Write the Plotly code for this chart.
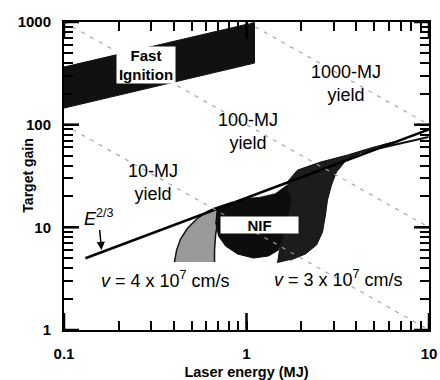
import math
import plotly.graph_objects as go

# ---- data ----
fast_E = [0.1, 1.106, 1.106, 0.1]
fast_G = [364, 990, 398, 145]

nif4_E = [0.403, 0.414, 0.435, 0.475, 0.532, 0.604, 0.668, 0.838, 0.767, 0.72, 0.694, 0.677, 0.668, 0.668]
nif4_G = [4.59, 6.0, 7.7, 9.8, 12.0, 14.1, 15.4, 17.6, 15.8, 13.8, 11.3, 8.4, 6.0, 4.59]

nif_E = [0.685, 1.976, 1.856, 1.699, 1.595, 1.497, 1.320, 1.092, 0.893, 0.767, 0.703, 0.676]
nif_G = [15.1, 30.9, 20.6, 13.2, 8.41, 6.01, 5.26, 5.02, 5.50, 6.58, 8.23, 11.3]

nif3_E = [1.479, 1.516, 1.595, 1.699, 1.764, 1.636, 1.903, 2.544, 3.576, 4.780, 6.310,
          5.424, 4.214, 3.487, 3.112, 2.922, 2.778, 2.709, 2.609, 2.419, 2.105, 1.742]
nif3_G = [4.49, 6.01, 8.41, 13.2, 18.45, 26.4, 36.1, 43.2, 50.6, 59.2, 67.7,
          59.2, 52.9, 44.2, 34.6, 25.8, 18.45, 13.2, 9.0, 6.72, 5.50, 4.80]

gap_E = [0.9875, 1.271, 1.678, 1.441, 1.163]
gap_G = [19.29, 22.57, 26.4, 21.58, 19.73]

tail_E = [5.424, 9.937]
tail_G = [59.2, 75.7]

scaling_E = [0.131, 10]
scaling_G = [5.0, 90]

yield_MJ = [10, 100, 1000]
yield_E = {10: [0.1, 10], 100: [0.1, 10], 1000: [1, 10]}
yield_G = {10: [100, 1], 100: [1000, 10], 1000: [1000, 100]}

x_ticks = [0.1, 1, 10]
x_ticktext = ["0.1", "1", "10"]
y_ticks = [1, 10, 100, 1000]
y_ticktext = ["1", "10", "100", "1000"]
x_minor = [0.2, 0.3, 0.4, 0.5, 0.6, 0.7, 0.8, 0.9, 2, 3, 4, 5, 6, 7, 8, 9]
y_minor = [2, 3, 4, 5, 6, 7, 8, 9, 20, 30, 40, 50, 60, 70, 80, 90,
           200, 300, 400, 500, 600, 700, 800, 900]

X_RANGE = [-1, 1]   # log10 of 0.1 .. 10
Y_RANGE = [0, 3]    # log10 of 1 .. 1000
W, H = 440, 380
M = dict(l=64, r=11, t=22, b=50)
FONT = "Liberation Sans, Arial, Helvetica, sans-serif"

# pixels per decade of each axis (tick lengths are given in pixels)
px_dec_x = (W - M["l"] - M["r"]) / (X_RANGE[1] - X_RANGE[0])
px_dec_y = (H - M["t"] - M["b"]) / (Y_RANGE[1] - Y_RANGE[0])

fig = go.Figure()

fig.add_trace(go.Scatter(x=fast_E, y=fast_G, fill="toself", mode="lines",
                         fillcolor="#111111", line=dict(color="#111111", width=1),
                         hoverinfo="skip", showlegend=False))
fig.add_trace(go.Scatter(x=nif4_E, y=nif4_G, fill="toself", mode="lines",
                         fillcolor="#9a9a9a",
                         line=dict(color="#111111", width=1.5),
                         hoverinfo="skip", showlegend=False))
fig.add_trace(go.Scatter(x=nif_E, y=nif_G, fill="toself", mode="lines",
                         fillcolor="#0d0d0d", line=dict(color="#0d0d0d", width=1),
                         hoverinfo="skip", showlegend=False))
fig.add_trace(go.Scatter(x=nif3_E, y=nif3_G, fill="toself", mode="lines",
                         fillcolor="#1c1c1c",
                         line=dict(color="#111111", width=1),
                         hoverinfo="skip", showlegend=False))
fig.add_trace(go.Scatter(x=gap_E, y=gap_G, fill="toself", mode="lines",
                         fillcolor="white", line=dict(color="white", width=0.5),
                         hoverinfo="skip", showlegend=False))
fig.add_trace(go.Scatter(x=tail_E, y=tail_G, mode="lines",
                         line=dict(color="#111111", width=2),
                         hoverinfo="skip", showlegend=False))
fig.add_trace(go.Scatter(x=scaling_E, y=scaling_G, mode="lines",
                         line=dict(color="#000000", width=2.5),
                         hoverinfo="skip", showlegend=False))
for y in yield_MJ:
    fig.add_trace(go.Scatter(x=yield_E[y], y=yield_G[y], mode="lines",
                             line=dict(color="#a0a0a0", width=1.1, dash="4px,6px"),
                             hoverinfo="skip", showlegend=False))

# longer major ticks (inside, all four sides) through the axis scales
xlo, xhi = 10 ** X_RANGE[0], 10 ** X_RANGE[1]
ylo, yhi = 10 ** Y_RANGE[0], 10 ** Y_RANGE[1]
for v in x_ticks:
    f = 10 ** (17 / px_dec_y)
    for a, b in ((ylo, ylo * f), (yhi, yhi / f)):
        fig.add_trace(go.Scatter(x=[v, v], y=[a, b], mode="lines",
                                 line=dict(color="black", width=2.5),
                                 hoverinfo="skip", showlegend=False))
for v in y_ticks:
    f = 10 ** (15 / px_dec_x)
    for a, b in ((xlo, xlo * f), (xhi, xhi / f)):
        fig.add_trace(go.Scatter(x=[a, b], y=[v, v], mode="lines",
                                 line=dict(color="black", width=2.5),
                                 hoverinfo="skip", showlegend=False))

txt = dict(family=FONT, size=18, color="black")
bold = dict(family=FONT, size=15, color="black", weight="bold")

ann = [
    dict(x=0.3093, y=27.6, text="10-MJ<br>yield", font=txt),
    dict(x=1.025, y=86.6, text="100-MJ<br>yield", font=txt),
    dict(x=3.487, y=254, text="1000-MJ<br>yield", font=txt),
    dict(x=0.2797, y=380, text="Fast<br>Ignition", font=bold, bgcolor="white",
         width=58, height=36, borderpad=0),
    dict(x=1.171, y=10.53, text="NIF", font=bold, bgcolor="white",
         width=77, height=16, borderpad=0),
    dict(x=0.36, y=3.07, text="<i>v</i> = 4 x 10<sup>7</sup> cm/s", font=txt),
    dict(x=3.192, y=3.21, text="<i>v</i> = 3 x 10<sup>7</sup> cm/s", font=txt),
]
for a in ann:
    fig.add_annotation(xref="x", yref="y", showarrow=False,
                       x=math.log10(a["x"]), y=math.log10(a["y"]),
                       **{k: v for k, v in a.items() if k not in ("x", "y")})

fig.add_annotation(xref="x", yref="y", x=math.log10(0.1605), y=math.log10(6.01),
                   text="<i>E</i><sup>2/3</sup>", font=txt, showarrow=True,
                   ax=-3, ay=-33, arrowhead=2, arrowsize=1.1, arrowwidth=1.5,
                   arrowcolor="black", standoff=0)

fig.add_annotation(xref="paper", yref="paper", x=-0.127, y=0.5, showarrow=False,
                   text="Target gain", textangle=-90,
                   font=dict(family=FONT, size=14, color="black", weight="bold"))

tickfont = dict(family=FONT, size=15, color="black", weight="bold")

x_all = sorted(x_ticks + x_minor)
y_all = sorted(y_ticks + y_minor)
x_all_text = [x_ticktext[x_ticks.index(v)] if v in x_ticks else "" for v in x_all]
y_all_text = [y_ticktext[y_ticks.index(v)] if v in y_ticks else "" for v in y_all]

fig.update_layout(
    width=W, height=H, margin=M,
    plot_bgcolor="white", paper_bgcolor="white", showlegend=False,
    xaxis=dict(type="log", range=X_RANGE, tickvals=x_all, ticktext=x_all_text,
               ticks="inside", ticklen=9, tickwidth=2, tickcolor="black",
               ticklabelstandoff=9, tickfont=tickfont, automargin=False,
               showgrid=False, zeroline=False,
               showline=True, linewidth=2, linecolor="black", mirror="ticks",
               title=dict(text="Laser energy (MJ)", standoff=8,
                          font=dict(family=FONT, size=14.5, color="black", weight="bold"))),
    yaxis=dict(type="log", range=Y_RANGE, tickvals=y_all, ticktext=y_all_text,
               ticks="inside", ticklen=9, tickwidth=2, tickcolor="black",
               ticklabelstandoff=8, tickfont=tickfont, automargin=False,
               showgrid=False, zeroline=False,
               showline=True, linewidth=2, linecolor="black", mirror="ticks"),
)

fig.write_html("out.html")
